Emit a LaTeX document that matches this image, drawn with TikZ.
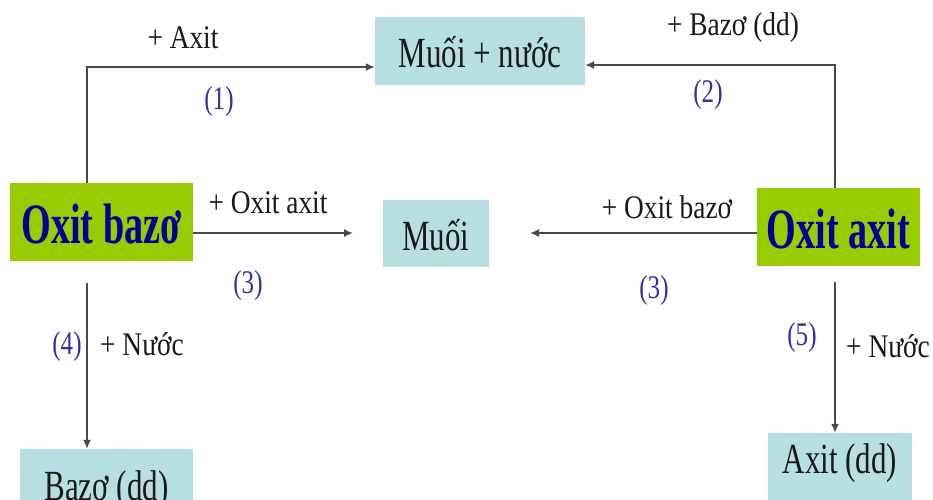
\documentclass[tikz,border=0pt]{standalone}
\usepackage{fontspec}
\setmainfont{Liberation Serif}
% condensed serif faces for boxes, labels and step numbers
\newfontfamily\boxfont[FakeStretch=0.72]{Liberation Serif}
\newfontfamily\headfont[FakeStretch=0.67]{Liberation Serif}
\newfontfamily\labfont[FakeStretch=0.83]{Liberation Serif}
\newfontfamily\numfont[FakeStretch=0.76]{Liberation Serif}
\usetikzlibrary{arrows.meta}

\definecolor{oxgreen}{HTML}{99CC00}
\definecolor{oxnavy}{HTML}{000099}
\definecolor{saltblue}{HTML}{B7DFE2}
\definecolor{stepblue}{HTML}{3030A8}
\definecolor{wire}{HTML}{4A4A4A}

\begin{document}
\begin{tikzpicture}[x=1pt,y=-1pt,
  oxbox/.style={fill=oxgreen, inner sep=0pt, text=oxnavy,
    font=\headfont\bfseries\fontsize{57}{57}\selectfont,
    text height=42pt, text depth=0pt},
  saltbox/.style={fill=saltblue, inner sep=0pt, text=black!90,
    font=\boxfont\fontsize{43}{43}\selectfont,
    text height=33pt, text depth=0pt},
  lab/.style={anchor=base, inner sep=0pt, text=black!90,
    font=\labfont\fontsize{33}{33}\selectfont},
  stepno/.style={inner sep=0pt, text=stepblue,
    font=\numfont\fontsize{33}{33}\selectfont},
  conn/.style={draw=wire, line width=1.6pt,
    -{Latex[length=9pt,width=8pt]}}
]
\useasboundingbox (0,0) rectangle (933,499);
\clip (0,0) rectangle (933,499);

% boxes
\node[saltbox, minimum width=210pt, minimum height=68pt] (mn) at (480,51) {Muối + nước};
\node[oxbox, minimum width=183pt, minimum height=78pt] (ob) at (101.5,222) {Oxit bazơ};
\node[oxbox, minimum width=163pt, minimum height=78pt] (oa) at (838.5,227) {Oxit axit};
\node[saltbox, minimum width=106pt, minimum height=67pt] (mu) at (436,233.5) {Muối};
\node[saltbox, minimum width=173pt, minimum height=80pt, text depth=11pt] (bd) at (106.5,489) {Bazơ (dd)};
\node[saltbox, minimum width=144pt, minimum height=77pt, text depth=30pt] (ad) at (840,471.5) {Axit (dd)};

% free ends of the open arrows
\coordinate (t3a) at (353,233);
\coordinate (t3b) at (530,233);
\coordinate (s4) at (87,283);
\coordinate (s5) at (835,282);

% connectors
\draw[conn] ([xshift=-14.5pt]ob.north) |- ([yshift=-16pt]mn.west);
\draw[conn] ([xshift=-3.5pt]oa.north) |- ([yshift=-14pt]mn.east);
\draw[conn] (ob.east |- t3a) -- (t3a);
\draw[conn] (oa.west |- t3b) -- (t3b);
\draw[conn] (s4) -- (bd.north -| s4);
\draw[conn] (s5) -- (ad.north -| s5);

% reagent labels
\node[lab] (l1) at (183,48) {+ Axit};
\node[lab] (l2) at (733,35) {+ Bazơ (dd)};
\node[lab] (l3a) at (268,213) {+ Oxit axit};
\node[lab] (l3b) at (667,218) {+ Oxit bazơ};
\node[lab] (l4) at (142,355) {+ Nước};
\node[lab] (l5) at (888,357) {+ Nước};

% step numbers
\node[stepno] (n1) at (219,102) {(1)};
\node[stepno] (n2) at (708,95) {(2)};
\node[stepno] (n3a) at (248,286) {(3)};
\node[stepno] (n3b) at (654,291) {(3)};
\node[stepno] (n4) at (67,347) {(4)};
\node[stepno] (n5) at (802,338) {(5)};
\end{tikzpicture}
\end{document}
